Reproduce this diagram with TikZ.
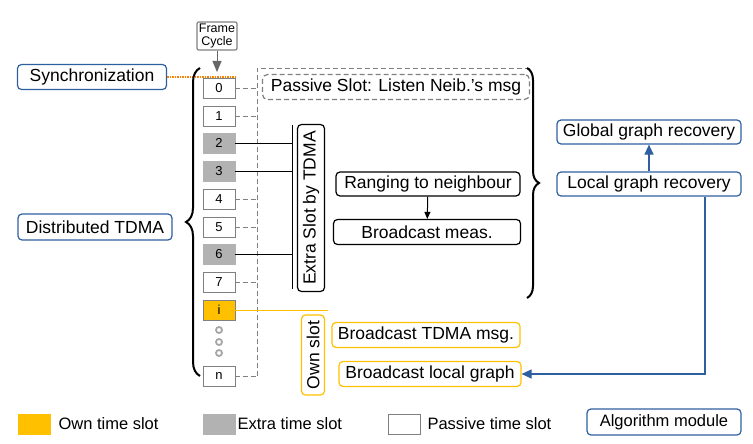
\documentclass[tikz,border=0pt]{standalone}
\usepackage{fontspec}
\setmainfont{Liberation Sans}
\usetikzlibrary{decorations.pathreplacing,arrows.meta}
\definecolor{ownorange}{RGB}{255,192,0}
\definecolor{modblue}{RGB}{46,95,160}
\tikzset{
  slot/.style={draw=gray,minimum width=32pt,minimum height=20pt,inner sep=0pt,font=\fontsize{13}{13}\selectfont},
  module/.style={draw=modblue,rounded corners=4pt,line width=1.2pt,inner sep=0pt,font=\fontsize{17.5}{17.5}\selectfont},
  task/.style={draw=black,rounded corners=4pt,line width=1.2pt,inner sep=0pt,font=\fontsize{17.5}{17.5}\selectfont},
  owntask/.style={draw=ownorange,rounded corners=4pt,line width=1.2pt,inner sep=0pt,font=\fontsize{17.5}{17.5}\selectfont},
  passline/.style={gray,dash pattern=on 5pt off 3pt},
}
\begin{document}
\begin{tikzpicture}[x=1pt,y=-1pt]
      \useasboundingbox (0,0) rectangle (753,444);

      % slots
      \node[slot] (s0) at (219,88) {0};
      \node[slot] (s1) at (219,116) {1};
      \node[slot,fill=gray!60,draw=gray!60] (s2) at (219,143) {2};
      \node[slot,fill=gray!60,draw=gray!60] (s3) at (219,171) {3};
      \node[slot] (s4) at (219,199) {4};
      \node[slot] (s5) at (219,227) {5};
      \node[slot,fill=gray!60,draw=gray!60] (s6) at (219,254) {6};
      \node[slot] (s7) at (219,282) {7};
      \node[slot,fill=ownorange,draw=gray] (si) at (219,310) {i};
      \node[slot] (sn) at (219,376) {n};
      \foreach \y in {330,342,353}
        \draw[gray!70,line width=1.8pt] (219,\y) circle[radius=3];

      % frame cycle
      \node[draw=gray,line width=1.2pt,rounded corners=2pt,align=center,inner sep=2pt,font=\fontsize{12.5}{13}\selectfont] (fc) at (217,36) {Frame\\Cycle};
      \coordinate (fctip) at (217,72);
      \draw[gray!80!black,line width=1pt,-{Triangle[width=9pt,length=11pt]}] (fc) -- (fctip);

      % synchronization
      \node[module,minimum width=149pt,minimum height=25pt] (sync) at (92,77) {Synchronization};
      \coordinate (syncend) at (235,77);
      \draw[orange,line width=1.5pt,densely dotted] (sync) -- (syncend);

      % passive frame
      \coordinate (pa) at (257,376);
      \coordinate (pb) at (257,68);
      \coordinate (pc) at (530,68);
      \draw[passline] (pa) -- (pb) -- (pc);
      \foreach \s in {s0,s1,s4,s5,s7,sn}
        \draw[passline] (\s.east) -- (257,0 |- \s.east);
      \node[draw=gray,dash pattern=on 5pt off 3pt,line width=1.2pt,rounded corners=5pt,minimum width=267pt,minimum height=25pt,inner sep=0pt,font=\fontsize{17.5}{17.5}\selectfont] (pass) at (396,87) {Passive Slot: Listen Neib.’s msg};

      % extra slots
      \coordinate (xa) at (292,125);
      \coordinate (xb) at (292,289);
      \draw[line width=1pt] (xa) -- (xb);
      \foreach \s in {s2,s3,s6}
        \draw[line width=1pt] (\s.east) -- (292,0 |- \s.east);
      \node[task,rotate=90,minimum width=167pt,minimum height=27pt] (extra) at (311,208) {Extra Slot by TDMA};
      \node[task,minimum width=184pt,minimum height=24pt] (rang) at (428,184) {Ranging to neighbour};
      \node[task,minimum width=187pt,minimum height=25pt] (meas) at (427,232) {Broadcast meas.};
      \draw[line width=1pt,-{Triangle[width=6pt,length=7pt]}] (rang) -- (meas);

      % own slot
      \coordinate (ownend) at (328,310);
      \draw[ownorange,line width=1pt] (si.east) -- (ownend);
      \node[owntask,rotate=90,minimum width=80pt,minimum height=23pt] (own) at (313,355) {Own slot};
      \node[owntask,minimum width=188pt,minimum height=25pt] (btdma) at (426,335) {Broadcast TDMA msg.};
      \node[owntask,minimum width=182pt,minimum height=25pt] (bgraph) at (430,374) {Broadcast local graph};

      % braces
      \draw[line width=2pt,decorate,decoration={brace,amplitude=14pt,raise=0pt}]
        (200,376) -- (200,68) node[coordinate,midway,xshift=-16pt] (ltip) {};
      \draw[line width=2pt,decorate,decoration={brace,amplitude=12pt}]
        (527,68) -- (527,298) node[coordinate,midway,xshift=14pt] (rtip) {};

      % modules
      \node[module,minimum width=154pt,minimum height=26pt] (dtdma) at (95,227) {Distributed TDMA};
      \node[module,minimum width=184pt,minimum height=24pt] (local) at (649,184) {Local graph recovery};
      \node[module,minimum width=184pt,minimum height=24pt] (global) at (649,132) {Global graph recovery};
      \draw[modblue,line width=1.2pt,-{Triangle[width=9pt,length=10pt]}] (local) -- (global);
      \coordinate (bend) at (705,374);
      \draw[modblue,line width=1.2pt,-{Triangle[width=9pt,length=10pt]}] (local.south -| bend) -- (bend) -- (bgraph);

      % legend
      \node[slot,fill=ownorange,draw=ownorange] (lown) at (34,424) {};
      \node[anchor=west,font=\fontsize{16.5}{16.5}\selectfont] (town) at (55,424) {Own time slot};
      \node[slot,fill=gray!60,draw=gray!60] (lextra) at (219,424) {};
      \node[anchor=west,font=\fontsize{16.5}{16.5}\selectfont] (textra) at (234,424) {Extra time slot};
      \node[slot] (lpass) at (404,424) {};
      \node[anchor=west,font=\fontsize{16.5}{16.5}\selectfont] (tpass) at (424,424) {Passive time slot};
      \node[module,minimum width=154pt,minimum height=26pt,font=\fontsize{16.5}{16.5}\selectfont] (lmod) at (664,422) {Algorithm module};

    \end{tikzpicture}
\end{document}
